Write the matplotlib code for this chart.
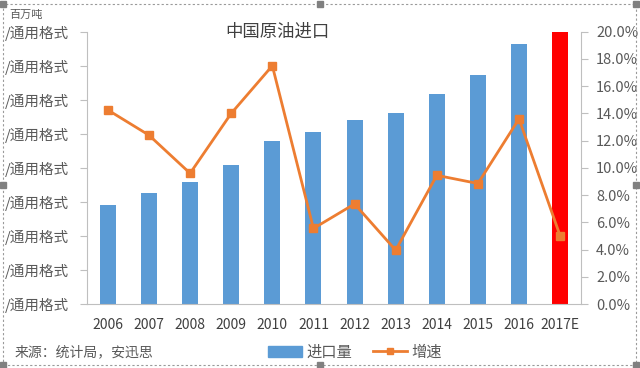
"""中国原油进口: bars (imports) + growth line on a twin axis."""
import matplotlib

matplotlib.use("Agg")
import matplotlib.pyplot as plt
from matplotlib.patches import Rectangle, Patch
from matplotlib.lines import Line2D
from matplotlib.ticker import FuncFormatter, MultipleLocator

plt.rcParams["font.family"] = ["Noto Sans CJK SC", "DejaVu Sans"]

years = ["2006", "2007", "2008", "2009", "2010", "2011",
         "2012", "2013", "2014", "2015", "2016", "2017E"]
imports = [145, 163, 179, 204, 239, 253, 271, 281, 309, 336, 382, 400]
growth = [14.25, 12.4, 9.6, 14.0, 17.5, 5.55, 7.35, 3.95, 9.45, 8.85, 13.6, 5.0]

BLUE = "#5B9BD5"
ORANGE = "#ED7D31"
RED = "#FF0000"
GREY = "#595959"
AXIS = "#BFBFBF"

W, H = 640, 368


def fx(px):
    return px / W


def fy(py):
    return 1 - py / H


fig = plt.figure(figsize=(6.4, 3.68), dpi=100)
ax = fig.add_axes([fx(87.3), fy(304), fx(580.7) - fx(87.3), fy(31.7) - fy(304)])
x = range(len(years))
colors = [BLUE] * (len(years) - 1) + [RED]
ax.bar(x, imports, width=0.39, color=colors, zorder=2)
ax.set_xlim(-0.5, len(years) - 0.5)
ax.set_ylim(0, 400)
ax.yaxis.set_major_locator(MultipleLocator(50))
ax.yaxis.set_major_formatter(FuncFormatter(lambda v, p: "/通用格式"))
ax.set_xticks(list(x))
ax.set_xticklabels(years)
ax.tick_params(axis="x", length=0, pad=10, labelsize=10, labelcolor="#404040")
ax.tick_params(axis="y", length=5, color=AXIS, width=0.8, pad=8,
               labelsize=10.5, labelcolor=GREY)
for side in ["top", "right"]:
    ax.spines[side].set_visible(False)
for side in ["left", "bottom"]:
    ax.spines[side].set_color(AXIS)
    ax.spines[side].set_linewidth(0.8)

ax2 = ax.twinx()
ax2.plot(list(x), growth, color=ORANGE, lw=2, marker="s", markersize=6,
         zorder=3)
ax2.set_ylim(0, 20)
ax2.yaxis.set_major_locator(MultipleLocator(2))
ax2.yaxis.set_major_formatter(FuncFormatter(lambda v, p: f"{v:.1f}%"))
ax2.tick_params(axis="y", length=5, color=AXIS, width=0.8, pad=6,
                labelsize=10.5, labelcolor=GREY)
for side in ["top", "left", "bottom"]:
    ax2.spines[side].set_visible(False)
ax2.spines["right"].set_color(AXIS)
ax2.spines["right"].set_linewidth(0.8)

fig.text(fx(277), fy(32), "中国原油进口", ha="center", va="center",
         fontsize=12.5, color="#404040")
fig.text(fx(9), fy(15), "百万吨", ha="left", va="center", fontsize=8,
         color=GREY)
fig.text(fx(15), fy(352), "来源：统计局，安迅思", ha="left", va="center",
         fontsize=10, color=GREY, style="italic")

handles = [Patch(color=BLUE),
           Line2D([0], [0], color=ORANGE, lw=2, marker="s", markersize=5)]
fig.legend(handles, ["进口量", "增速"], loc="center",
           bbox_to_anchor=(fx(355), fy(352)), ncol=2, frameon=False,
           fontsize=11, handlelength=2.2, columnspacing=1.4,
           handletextpad=0.3, labelcolor=GREY)

# dashed selection frame with handles
fig.patches.append(Rectangle((fx(3), fy(365)), fx(633), fy(4) - fy(365),
                             transform=fig.transFigure, fill=False,
                             ec="#9A9A9A", lw=0.8, ls=(0, (2, 2))))
for hx, hy in [(3, 4), (320, 4), (636, 4), (3, 185), (636, 185),
               (3, 365), (320, 365), (636, 365)]:
    fig.patches.append(Rectangle((fx(hx - 3), fy(hy + 3)), fx(6), fx(6) * W / H,
                                 transform=fig.transFigure, color="#808080"))

fig.savefig("out.png", dpi=100)
